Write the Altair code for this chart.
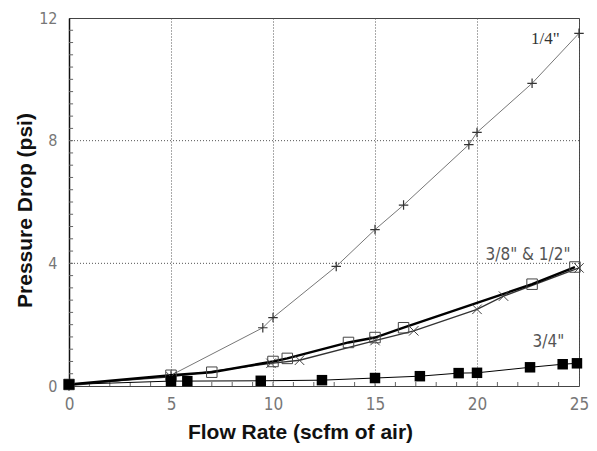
import altair as alt
import pandas as pd

# ---- data ----
flow_quarter = [0, 5, 9.5, 10, 13.1, 15, 16.4, 19.6, 20, 22.7, 25]
dp_quarter = [0, 0.35, 1.9, 2.23, 3.9, 5.1, 5.9, 7.87, 8.27, 9.87, 11.5]

flow_38 = [0, 5, 7, 10, 10.7, 13.7, 15, 16.4, 22.7, 24.8]
dp_38 = [0.05, 0.35, 0.45, 0.8, 0.9, 1.42, 1.58, 1.9, 3.32, 3.88]

flow_12 = [0, 5, 9.9, 11.3, 15, 16.9, 20, 21.3, 25]
dp_12 = [0.05, 0.3, 0.74, 0.84, 1.48, 1.8, 2.5, 2.93, 3.85]

flow_34 = [0, 5, 5.8, 9.4, 12.4, 15, 17.2, 19.1, 20, 22.6, 24.2, 24.9]
dp_34 = [0.05, 0.16, 0.16, 0.17, 0.19, 0.26, 0.32, 0.42, 0.43, 0.61, 0.71, 0.74]

x_ticks = [0, 5, 10, 15, 20, 25]
y_ticks = [0, 4, 8, 12]
y_grid = [4, 8]
x_minor = [v for v in range(1, 25)]
y_minor = [round(0.4 * i, 1) for i in range(1, 30)]

label_text = ['1/4"', '3/8" & 1/2"', '3/4"']
label_x = [23.35, 22.5, 23.5]
label_y = [11.3, 4.26, 1.45]

# ---- frames ----
d_quarter = pd.DataFrame({"flow": flow_quarter, "dp": dp_quarter})
d_38 = pd.DataFrame({"flow": flow_38, "dp": dp_38})
d_12 = pd.DataFrame({"flow": flow_12, "dp": dp_12})
d_34 = pd.DataFrame({"flow": flow_34, "dp": dp_34})

xs = alt.Scale(domain=[0, 25], nice=False, zero=False)
ys = alt.Scale(domain=[0, 12], nice=False, zero=False)

tick_font = "Liberation Sans Narrow, DejaVu Sans Condensed, sans-serif"

X = alt.X("flow:Q", scale=xs, axis=alt.Axis(
    values=x_ticks, grid=True, gridDash=[1, 2], gridColor="#555", gridWidth=1,
    ticks=False, domain=False, labelPadding=10, labelFontSize=17,
    labelColor="#777", labelFont=tick_font, labelFlush=False,
    title="Flow Rate (scfm of air)", titleFont="Liberation Sans, Arial, sans-serif",
    titleFontSize=21, titleFontWeight="bold", titleColor="#111",
    titleX=231, titleY=52, titleBaseline="alphabetic", titleAlign="center"))
Y = alt.Y("dp:Q", scale=ys, axis=alt.Axis(
    values=y_ticks, grid=False, ticks=False, domain=True, domainColor="#111",
    domainWidth=1.5, labelPadding=12, labelFontSize=16, labelColor="#777",
    labelFont=tick_font, labelFlush=False,
    title="Pressure Drop (psi)", titleFont="Liberation Sans, Arial, sans-serif",
    titleFontSize=21, titleFontWeight="bold", titleColor="#111",
    titleAngle=270, titleX=-38, titleY=192, titleBaseline="alphabetic", titleAlign="center"))

plus_shape = "M-1,0L1,0M0,-1L0,1"
x_shape = "M-1,-1L1,1M-1,1L1,-1"

grid_y = alt.Chart(pd.DataFrame({"dp": y_grid})).mark_rule(
    strokeDash=[1, 2], color="#555", strokeWidth=1).encode(y=alt.Y("dp:Q", scale=ys))

minor_x = alt.Chart(pd.DataFrame({"flow": x_minor, "lo": 0, "hi": 0.13})).mark_rule(
    color="#666", strokeWidth=1).encode(
    x=alt.X("flow:Q", scale=xs), y=alt.Y("lo:Q", scale=ys), y2="hi:Q")
minor_y = alt.Chart(pd.DataFrame({"dp": y_minor, "lo": 0, "hi": 0.2})).mark_rule(
    color="#666", strokeWidth=1).encode(
    y=alt.Y("dp:Q", scale=ys), x=alt.X("lo:Q", scale=xs), x2="hi:Q")

base_q = alt.Chart(d_quarter).encode(x=X, y=Y)
line_q = base_q.mark_line(color="#777", strokeWidth=1)
pts_q = base_q.mark_point(shape=plus_shape, size=90, color="#333", strokeWidth=1.2, filled=False, opacity=1)

base_12 = alt.Chart(d_12).encode(x=alt.X("flow:Q", scale=xs), y=alt.Y("dp:Q", scale=ys))
line_12 = base_12.mark_line(color="#333", strokeWidth=1.3)
pts_12 = base_12.mark_point(shape=x_shape, size=90, color="#444", strokeWidth=1, filled=False, opacity=1)

base_38 = alt.Chart(d_38).encode(x=alt.X("flow:Q", scale=xs), y=alt.Y("dp:Q", scale=ys))
line_38 = base_38.mark_line(color="#000", strokeWidth=2.4)
pts_38 = base_38.mark_point(shape="square", size=110, color="#444", strokeWidth=1, filled=False, opacity=1)

base_34 = alt.Chart(d_34).encode(x=alt.X("flow:Q", scale=xs), y=alt.Y("dp:Q", scale=ys))
line_34 = base_34.mark_line(color="#000", strokeWidth=1)
pts_34 = base_34.mark_point(shape="square", size=110, color="#000", filled=True, opacity=1)

lab_df = pd.DataFrame({"flow": label_x, "dp": label_y, "t": label_text})
lab_q = alt.Chart(lab_df.iloc[[0]]).mark_text(
    font="Liberation Serif, serif", fontSize=17, color="#333").encode(
    x=alt.X("flow:Q", scale=xs), y=alt.Y("dp:Q", scale=ys), text="t:N")
lab_rest = alt.Chart(lab_df.iloc[[1, 2]]).mark_text(
    font=tick_font, fontSize=17, color="#555").encode(
    x=alt.X("flow:Q", scale=xs), y=alt.Y("dp:Q", scale=ys), text="t:N")

chart = alt.layer(
    line_q, grid_y, minor_x, minor_y, pts_q,
    line_12, line_38, pts_12, pts_38, line_34, pts_34, lab_q, lab_rest
).properties(
    width=510, height=368,
    autosize=alt.AutoSizeParams(type="none"),
    padding={"left": 61, "top": 10, "right": 10, "bottom": 57},
    background="white",
).configure_view(stroke="#444", strokeWidth=1)

chart.save("out.html", embed_options={"renderer": "svg", "actions": False})
